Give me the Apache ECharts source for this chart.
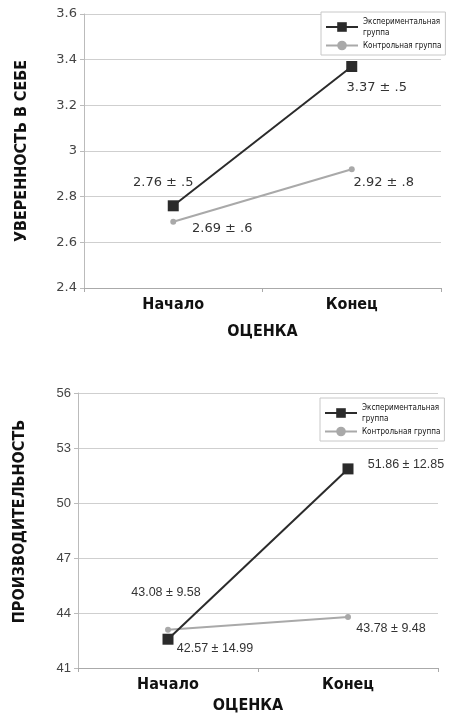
<!DOCTYPE html>
<html>
<head>
<meta charset="utf-8">
<script src="https://cdn.jsdelivr.net/npm/echarts@6/dist/echarts.min.js"></script>
<style>
  html, body { margin: 0; padding: 0; background: #fff; }
  #chart { width: 450px; height: 718px; }
</style>
</head>
<body>
<div id="chart"></div>
<script>
// две панели: уверенность в себе и производительность, начало / конец

const CATEGORIES = ['Начало', 'Конец'];
const SERIES_NAMES = ['Экспериментальная группа', 'Контрольная группа'];

// верхний график
const CONF_EXP = [2.76, 3.37];
const CONF_EXP_SD = ['.5', '.5'];
const CONF_CTRL = [2.69, 2.92];
const CONF_CTRL_SD = ['.6', '.8'];

// нижний график
const PROD_EXP = [42.57, 51.86];
const PROD_EXP_SD = ['14.99', '12.85'];
const PROD_CTRL = [43.08, 43.78];
const PROD_CTRL_SD = ['9.58', '9.48'];

const NARROW = "'Liberation Sans Narrow', 'DejaVu Sans Condensed', sans-serif";

// подписи «среднее ± SD» со смещением от точки
function withLabels(values, sds, offsets) {
  return values.map((v, i) => ({
    value: v,
    label: { offset: offsets[i], formatter: v.toFixed(2) + ' ± ' + sds[i] }
  }));
}

function lineSeries(name, idx, data, dark, font, fontSize) {
  return {
    name: name,
    type: 'line',
    xAxisIndex: idx,
    yAxisIndex: idx,
    data: data,
    symbol: dark ? 'rect' : 'circle',
    symbolSize: dark ? 11 : 6,
    lineStyle: { color: dark ? '#2b2b2b' : '#a9a9a9', width: 2 },
    itemStyle: { color: dark ? '#2b2b2b' : '#a9a9a9' },
    label: {
      show: true, position: 'inside', align: 'center', verticalAlign: 'middle',
      color: '#333', fontFamily: font, fontSize: fontSize
    },
    emphasis: { disabled: true },
    z: dark ? 3 : 2
  };
}

function xAxis(gridIndex, nameGap, namePad) {
  return {
    type: 'category', gridIndex: gridIndex, data: CATEGORIES,
    name: 'ОЦЕНКА', nameLocation: 'middle', nameGap: nameGap,
    nameTextStyle: { fontFamily: NARROW, fontWeight: 'bold', fontSize: 16, color: '#111', padding: namePad },
    axisLine: { lineStyle: { color: '#aaa' } },
    axisTick: { show: true, length: 4, lineStyle: { color: '#aaa' } },
    axisLabel: { fontFamily: NARROW, fontWeight: 'bold', fontSize: 16, color: '#111', margin: 9 }
  };
}

function yAxis(gridIndex, min, max, interval, name, nameGap, namePad, font, fontSize) {
  return {
    type: 'value', gridIndex: gridIndex, min: min, max: max, interval: interval,
    name: name, nameLocation: 'middle', nameGap: nameGap, nameRotate: 90,
    nameTextStyle: { fontFamily: NARROW, fontWeight: 'bold', fontSize: 16, color: '#111', padding: namePad },
    axisLine: { show: true, lineStyle: { color: '#bbb' } },
    axisTick: { show: true, length: 4, lineStyle: { color: '#bbb' } },
    splitLine: { lineStyle: { color: '#cfcfcf' } },
    axisLabel: { fontFamily: font, fontSize: fontSize, color: '#444', margin: 7 }
  };
}

function legend(left, top) {
  return {
    data: SERIES_NAMES,
    orient: 'vertical', left: left, top: top,
    backgroundColor: '#fff', borderColor: '#c8c8c8', borderWidth: 1,
    padding: [4, 4, 4, 4], itemGap: 2, itemWidth: 32, itemHeight: 12,
    formatter: n => n === SERIES_NAMES[0] ? 'Экспериментальная\nгруппа' : n,
    textStyle: { fontFamily: "'DejaVu Sans Condensed', sans-serif", fontSize: 8, color: '#111', lineHeight: 11 },
    selectedMode: false
  };
}

const chart = echarts.init(document.getElementById('chart'));

chart.setOption({
  animation: false,
  grid: [
    { left: 84, right: 9, top: 14, height: 274 },
    { left: 78, right: 12, top: 393, height: 275 }
  ],
  legend: [legend(321, 12), legend(320, 398)],
  xAxis: [xAxis(0, 36, 0), xAxis(1, 30, [0, 20, 0, 0])],
  yAxis: [
    yAxis(0, 2.4, 3.6, 0.2, 'УВЕРЕННОСТЬ В СЕБЕ', 54, 0, "'DejaVu Sans', sans-serif", 13),
    yAxis(1, 41, 56, 3, 'ПРОИЗВОДИТЕЛЬНОСТЬ', 50, [0, 0, 0, 18], "'Liberation Sans', Arial, sans-serif", 13)
  ],
  series: [
    lineSeries(SERIES_NAMES[0], 0, withLabels(CONF_EXP, CONF_EXP_SD, [[-10, -23], [25, 21]]), true, "'DejaVu Sans', sans-serif", 13),
    lineSeries(SERIES_NAMES[1], 0, withLabels(CONF_CTRL, CONF_CTRL_SD, [[49, 7], [32, 13]]), false, "'DejaVu Sans', sans-serif", 13),
    lineSeries(SERIES_NAMES[0], 1, withLabels(PROD_EXP, PROD_EXP_SD, [[47, 9], [58, -4]]), true, "'Liberation Sans', Arial, sans-serif", 12.5),
    lineSeries(SERIES_NAMES[1], 1, withLabels(PROD_CTRL, PROD_CTRL_SD, [[-2, -37], [43, 12]]), false, "'Liberation Sans', Arial, sans-serif", 12.5)
  ]
});
</script>
</body>
</html>
